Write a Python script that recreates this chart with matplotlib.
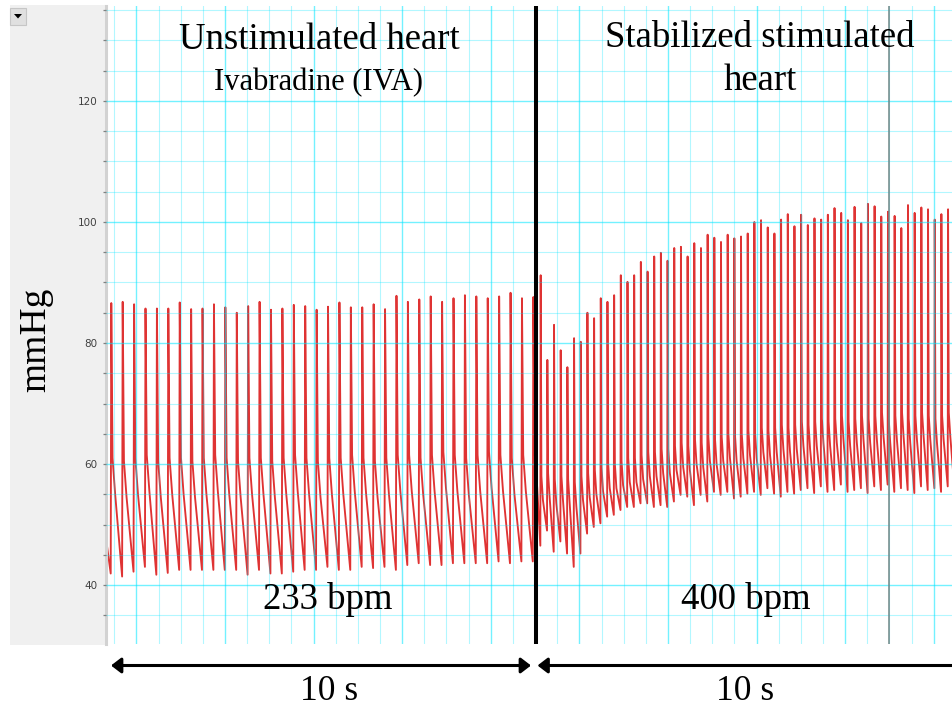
import matplotlib
matplotlib.use("Agg")
import matplotlib.pyplot as plt
from matplotlib.patches import Rectangle, Polygon, FancyArrowPatch
from matplotlib.ticker import MultipleLocator
import numpy as np

# ---------------- data ----------------
left_bpm = 233
right_bpm = 398
left_first_peak_s = 1.433
right_first_peak_s = 11.126
start_level = 48.3

left_peaks = [86.6, 86.8, 86.4, 85.7, 85.7, 85.7, 86.7, 85.6, 85.7, 86.4, 85.9, 85.0, 86.1,
              86.8, 85.5, 85.7, 86.3, 86.1, 85.5, 86.0, 86.7, 85.9, 85.9, 86.4, 85.6, 87.8,
              86.8, 87.2, 87.7, 86.8, 87.4, 87.9, 87.7, 87.4, 87.7, 88.3, 87.4, 87.6]
left_troughs = [41.9, 41.4, 42.2, 43.0, 41.7, 42.0, 42.5, 42.5, 42.5, 42.5, 42.5, 42.5, 41.7,
                42.5, 41.9, 41.9, 42.2, 42.5, 42.5, 43.0, 42.5, 42.5, 43.0, 42.8, 43.0, 42.5,
                43.3, 43.6, 43.3, 43.3, 43.6, 43.6, 43.6, 43.6, 43.9, 43.6, 43.9, 43.9]
left_notch = [61.0, 60.5, 61.0, 61.5, 60.5, 61.0, 61.0, 60.5, 61.0, 61.5, 61.0, 60.5, 61.0,
              61.0, 60.5, 61.0, 61.5, 61.0, 60.5, 61.0, 61.0, 61.5, 61.0, 60.5, 61.0, 61.5,
              61.5, 61.0, 61.5, 62.0, 61.5, 61.0, 61.5, 62.0, 61.5, 61.0, 61.5, 62.0]

right_peaks = [91.2, 77.2, 83.0, 78.8, 76.0, 80.8, 80.2, 85.0, 84.1, 87.4, 86.8, 87.9, 91.2, 90.1,
               91.2, 93.4, 91.8, 94.3, 94.9, 93.6,
               95.7, 95.9, 94.3, 96.5, 95.7, 97.9, 97.4, 96.7, 97.9, 97.3, 97.6, 98.1, 100.0, 100.3,
               99.1, 98.1, 100.4, 101.3, 99.3,
               101.2, 99.5, 100.6, 100.4, 101.2, 102.3, 101.5, 100.3, 102.5, 99.8, 103.0, 102.6,
               100.9, 101.7, 101.0, 99.0, 102.8, 101.5, 102.4, 102.1, 100.4, 101.3, 102.1]
right_troughs = [46.5, 49.0, 45.5, 47.2, 45.2, 43.0, 45.2, 48.5, 49.6, 50.2, 51.3, 51.6, 52.4, 52.9,
                 52.9, 53.5, 53.5, 52.9, 53.2, 52.9,
                 53.8, 54.9, 54.6, 53.2, 54.9, 53.8, 55.4, 54.9, 55.4, 54.3, 54.6, 55.1, 55.4, 54.9,
                 56.0, 55.1, 54.6, 55.4, 55.1,
                 55.7, 56.0, 55.2, 56.3, 55.4, 55.7, 56.6, 55.4, 55.7, 56.0, 55.2, 56.3, 55.7, 56.6,
                 55.4, 56.0, 55.7, 55.2, 56.3, 55.7, 56.0, 55.4, 56.3]
right_notch = [58.0, 58.5, 57.5, 58.0, 57.5, 57.0, 58.0, 58.5, 59.0, 59.5, 60.0, 60.0, 60.5, 61.0,
               61.0, 61.5, 62.0, 62.0, 62.5, 62.5,
               63.0, 63.5, 63.0, 64.0, 63.5, 64.5, 64.0, 64.5, 65.0, 64.5, 65.0, 65.5, 65.0, 66.0,
               65.5, 66.0, 66.5, 66.0, 66.5,
               67.0, 66.5, 67.0, 67.5, 67.0, 67.5, 68.0, 67.0, 67.5, 68.0, 67.5, 68.0, 68.5, 67.5,
               68.0, 68.5, 67.5, 68.0, 68.5, 68.0, 67.5, 68.0, 68.5]
right_end_trough = 56.0

yticks = [40, 60, 80, 100, 120]
divider_s = 11.025
marker_s = 19.0

# beat template (fractions of the beat period, relative to the peak)
pre_phase = 0.05
notch_phase = 0.11
decay_phase = 0.34
left_drop = 6.0
right_drop = 4.0


def build(first_peak, bpm, peaks, troughs, notch, drop):
    P = 60.0 / bpm
    ts, vs = [], []
    for i in range(len(peaks)):
        tp = first_peak + i * P
        ts += [tp - pre_phase * P, tp, tp + notch_phase * P, tp + decay_phase * P]
        vs += [troughs[i], peaks[i], notch[i], notch[i] - drop]
    return ts, vs, tp, P


# ---------------- figure ----------------
W, H = 952, 708
fig = plt.figure(figsize=(W / 100, H / 100), dpi=100)


def fx(px):
    return px / W


def fy(py):
    return 1 - py / H


# grey left panel
fig.patches.append(Rectangle((fx(10), fy(645)), fx(96), 640 / H, transform=fig.transFigure,
                             facecolor="#f0f0f0", edgecolor="none", zorder=-5))
# dropdown button
fig.patches.append(Rectangle((fx(10), fy(24.5)), fx(16), 16.5 / H, transform=fig.transFigure,
                             facecolor="#e0e0e0", edgecolor="#c6c6c6", lw=0.8, zorder=3))
fig.patches.append(Polygon([(fx(14), fy(14)), (fx(22), fy(14)), (fx(18), fy(18.5))],
                           closed=True, transform=fig.transFigure, facecolor="black",
                           edgecolor="none", zorder=4))

ax = fig.add_axes([fx(105.5), fy(644), 1 - fx(105.5), (644 - 6) / H])
ax.set_xlim(1.3025, 20.411)
ax.set_ylim(30.25, 135.7)

lt, lv, _, _ = build(left_first_peak_s, left_bpm, left_peaks, left_troughs, left_notch, left_drop)
rt, rv, tp_last, Pr = build(right_first_peak_s, right_bpm, right_peaks, right_troughs,
                            right_notch, right_drop)
t_all = [1.3025] + lt + rt + [tp_last + (1 - pre_phase) * Pr, tp_last + 2 * Pr]
v_all = [start_level] + lv + rv + [right_end_trough, right_end_trough - 1]
ax.plot(t_all, v_all, color="#d80000", lw=1.35, alpha=0.8, zorder=2,
        solid_joinstyle="round")

# grid (drawn over the trace, semi transparent cyan)
ax.xaxis.set_major_locator(MultipleLocator(2))
ax.xaxis.set_minor_locator(MultipleLocator(0.5))
ax.yaxis.set_minor_locator(MultipleLocator(5))
ax.set_yticks(yticks)
ax.set_yticklabels([str(v) for v in yticks])
ax.set_axisbelow(False)
ax.grid(which="major", color="#00e6ff", alpha=0.55, lw=1.0)
ax.grid(which="minor", color="#00e6ff", alpha=0.3, lw=0.8)
ax.tick_params(axis="x", which="both", length=0, labelbottom=False)
ax.tick_params(axis="y", which="both", length=2.2, width=0.9, color="#808080",
               labelsize=7.5, labelcolor="#404040", pad=3.5)
for s in ["top", "right", "bottom"]:
    ax.spines[s].set_visible(False)
ax.spines["left"].set_color("#d2d2d2")
ax.spines["left"].set_linewidth(2.2)
ax.set_facecolor("white")

ax.axvline(divider_s, color="black", lw=2.9, zorder=6)
ax.axvline(marker_s, color="#6f8686", lw=1.1, zorder=6)

serif = ["Liberation Serif", "DejaVu Serif"]
fig.text(fx(319), fy(49), "Unstimulated heart", family=serif, fontsize=26.5,
         ha="center", va="baseline")
fig.text(fx(318), fy(90), "Ivabradine (IVA)", family=serif, fontsize=22,
         ha="center", va="baseline")
fig.text(fx(760), fy(47), "Stabilized stimulated", family=serif, fontsize=26.5,
         ha="center", va="baseline")
fig.text(fx(760), fy(90), "heart", family=serif, fontsize=26.5, ha="center", va="baseline")
fig.text(fx(328), fy(609), "233 bpm", family=serif, fontsize=26.5, ha="center", va="baseline")
fig.text(fx(745.5), fy(609), "400 bpm", family=serif, fontsize=26.5, ha="center", va="baseline")
fig.text(fx(36), fy(340), "mmHg", family=serif, fontsize=27, rotation=90,
         ha="center", va="center")
fig.text(fx(329), fy(700), "10 s", family=serif, fontsize=25.5, ha="center", va="baseline")
fig.text(fx(745), fy(700), "10 s", family=serif, fontsize=25.5, ha="center", va="baseline")

style = "<|-|>,head_length=6,head_width=4.6"
for x0, x1 in [(111, 531), (537.5, 975)]:
    fig.patches.append(FancyArrowPatch((fx(x0), fy(665.5)), (fx(x1), fy(665.5)),
                                       transform=fig.transFigure, arrowstyle=style,
                                       mutation_scale=1, lw=2.2, color="black",
                                       shrinkA=0, shrinkB=0))

fig.savefig("out.png", dpi=100)
